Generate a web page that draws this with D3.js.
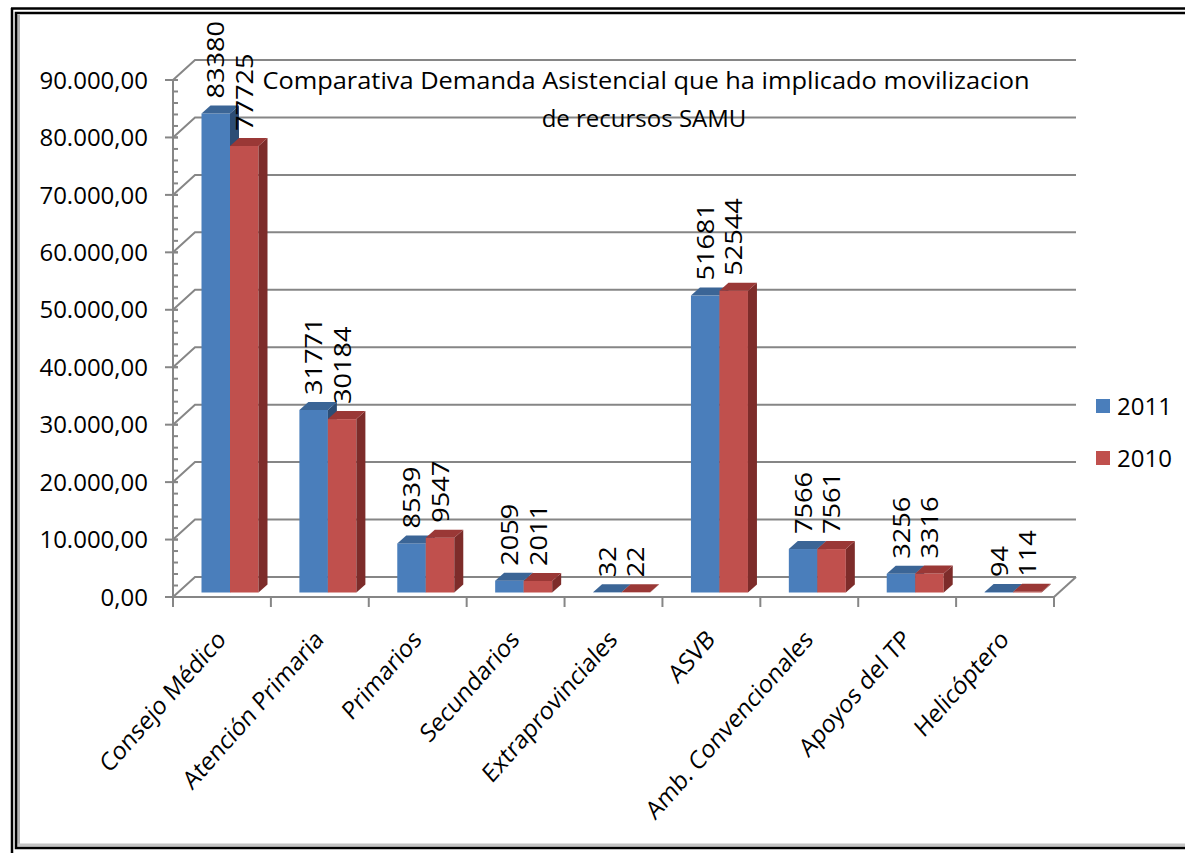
<!DOCTYPE html>
<html><head><meta charset="utf-8">
<script src="https://cdn.jsdelivr.net/npm/d3@7"></script>
<style>
body{margin:0;background:#fff}
svg{display:block}
text{font-family:"Open Sans",sans-serif;fill:#000}
</style>
</head><body>
<svg id="c" width="1185" height="853"></svg>
<script>
// ---- data ----
const categories = ["Consejo Médico","Atención Primaria","Primarios","Secundarios","Extraprovinciales","ASVB","Amb. Convencionales","Apoyos del TP","Helicóptero"];
const series = ["2011","2010"];
const values2011 = [83380,31771,8539,2059,32,51681,7566,3256,94];
const values2010 = [77725,30184,9547,2011,22,52544,7561,3316,114];
const yTicks = [0,10000,20000,30000,40000,50000,60000,70000,80000,90000];
const yMinorTicks = d3.range(0, 90001, 2000);
const titleLines = ["Comparativa Demanda Asistencial que ha implicado movilizacion","de recursos SAMU"];

// ---- styling / layout ----
const colors = {
  "2011": {front:"#4a7ebb", top:"#3b6596", side:"#2c4d75"},
  "2010": {front:"#c0504d", top:"#9a3836", side:"#7d2c2a"}
};
const gridColor = "#868686";
const X0 = 173, X1 = 1054, YB = 597, YT = 80;
const DX = 22, DY = -20;        // back wall offset
const BDX = 5, BDY = -4.5;      // bar position in depth
const TDX = 9, TDY = -8;        // bar thickness in depth
const VS = 1.13;                // vertical stretch of rotated text

const svg = d3.select("#c");
const loc = d3.formatLocale({decimal:",", thousands:".", grouping:[3], currency:["",""]});
const fmt = loc.format(",.2f");

const x = d3.scaleBand().domain(categories).range([X0, X1]);
const xs = d3.scaleBand().domain(series).range([23.5, 80.5]);
const y = d3.scaleLinear().domain([0, 90000]).range([YB, YT]);

// ---- frame ----
const fr = svg.append("g");
fr.append("line").attr("x1",12).attr("y1",8).attr("x2",12).attr("y2",853).attr("stroke","#000").attr("stroke-width",2.5);
fr.append("line").attr("x1",11).attr("y1",8.5).attr("x2",1190).attr("y2",8.5).attr("stroke","#000").attr("stroke-width",2.5);
fr.append("line").attr("x1",18.5).attr("y1",15).attr("x2",18.5).attr("y2",846).attr("stroke","#b4b4b4").attr("stroke-width",3);
fr.append("line").attr("x1",17).attr("y1",845).attr("x2",1190).attr("y2",845).attr("stroke","#c4c4c4").attr("stroke-width",3);
fr.append("rect").attr("x",16).attr("y",13).attr("width",1200).attr("height",835)
  .attr("fill","none").attr("stroke","#000").attr("stroke-width",2.5);

// ---- back wall gridlines & side wall ----
const g = svg.append("g").attr("fill","none").attr("stroke",gridColor).attr("stroke-width",2);
yTicks.forEach(t => {
  const yy = y(t);
  g.append("path").attr("d", `M${X0},${yy}L${X0+DX},${yy+DY}L${X1+DX},${yy+DY}`);
});
g.append("path").attr("d", `M${X1},${y(0)}L${X1+DX},${y(0)+DY}`);
g.append("line").attr("x1",X0).attr("y1",y(0)).attr("x2",X0).attr("y2",y(90000));
yMinorTicks.forEach(t => {
  g.append("line").attr("x1",X0).attr("x2",X0+5).attr("y1",y(t)).attr("y2",y(t));
});
yTicks.forEach(t => {
  g.append("line").attr("x1",X0-8).attr("x2",X0+5).attr("y1",y(t)).attr("y2",y(t));
});
g.append("line").attr("x1",X0).attr("y1",y(0)).attr("x2",X1).attr("y2",y(0));
categories.concat(["__end"]).forEach((c,i) => {
  const xx = i < categories.length ? x(c) : X1;
  g.append("line").attr("x1",xx).attr("x2",xx).attr("y1",y(0)).attr("y2",y(0)+10);
});

// ---- y tick labels ----
svg.append("g").selectAll("text").data(yTicks).join("text")
  .attr("x", 148).attr("y", d => y(d)).attr("dy","0.36em")
  .attr("text-anchor","end").attr("font-size",24)
  .text(d => fmt(d));

// ---- bars ----
const data = categories.map((c,i) => ({cat:c, vals:[{s:"2011", v:values2011[i]},{s:"2010", v:values2010[i]}]}));
const bars = svg.append("g");
data.forEach(d => {
  d.vals.forEach(b => {
    const xl = x(d.cat) + xs(b.s) + BDX, xr = xl + xs.bandwidth();
    const yt = y(b.v) + BDY, yb = y(0) + BDY;
    const c = colors[b.s];
    bars.append("rect").attr("x",xl).attr("y",yt).attr("width",xr-xl).attr("height",Math.max(0,yb-yt)).attr("fill",c.front);
    bars.append("path").attr("d",`M${xr},${yt}L${xr+TDX},${yt+TDY}L${xr+TDX},${yb+TDY}L${xr},${yb}Z`).attr("fill",c.side);
    bars.append("path").attr("d",`M${xl},${yt}L${xl+TDX},${yt+TDY}L${xr+TDX},${yt+TDY}L${xr},${yt}Z`).attr("fill",c.top);
  });
});

// ---- data labels ----
const lab = svg.append("g");
data.forEach(d => {
  d.vals.forEach(b => {
    const cx = x(d.cat) + xs(b.s) + BDX + xs.bandwidth()/2;
    const yt = y(b.v) + BDY - 15;
    lab.append("text")
      .attr("transform", `translate(${cx},${yt}) scale(1,${VS}) rotate(-90)`)
      .attr("dy","0.36em").attr("font-size",24).attr("text-anchor","start")
      .text(b.v);
  });
});

// ---- category labels ----
svg.append("g").selectAll("text").data(categories).join("text")
  .attr("transform", d => `translate(${x(d)+x.bandwidth()/2+5},${641}) scale(1,${VS}) rotate(-45)`)
  .attr("text-anchor","end").attr("font-size",22.5)
  .text(d => d);

// ---- title ----
const tt = svg.append("g");
tt.append("text").attr("x",646).attr("y",89).attr("text-anchor","middle").attr("font-size",24)
  .attr("textLength",767).attr("lengthAdjust","spacingAndGlyphs").text(titleLines[0]);
tt.append("text").attr("x",644).attr("y",127).attr("text-anchor","middle").attr("font-size",24)
  .text(titleLines[1]);

// ---- legend ----
const lg = svg.append("g");
series.forEach((s,i) => {
  const yy = 399 + i*52;
  lg.append("rect").attr("x",1096).attr("y",yy).attr("width",14).attr("height",14).attr("fill",colors[s].front);
  lg.append("text").attr("x",1117).attr("y",yy+16).attr("font-size",24).text(s);
});
</script>
</body></html>
